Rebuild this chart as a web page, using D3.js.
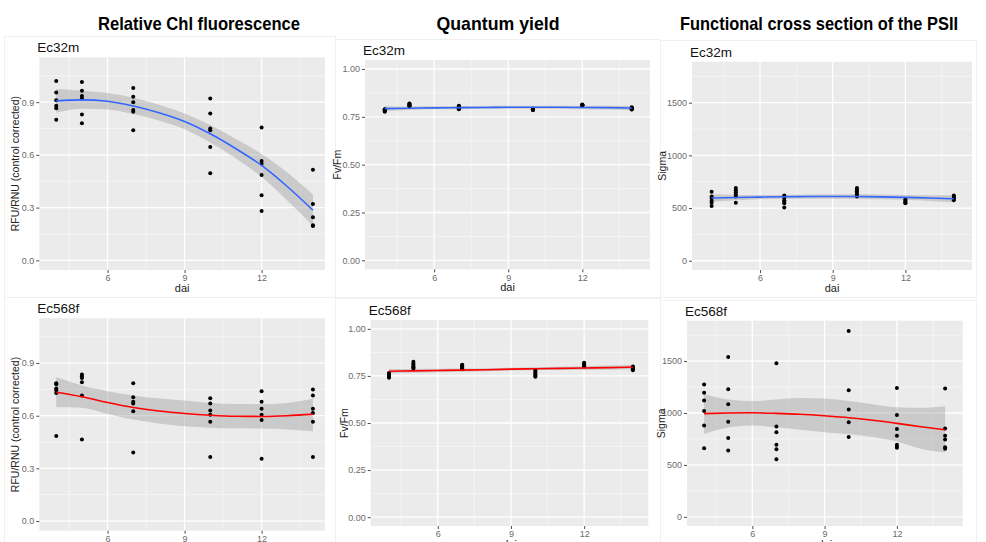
<!DOCTYPE html>
<html>
<head>
<meta charset="utf-8">
<script src="https://cdn.jsdelivr.net/npm/d3@7"></script>
<style>
  body { margin: 0; background: #fff; }
  svg { display: block; font-family: "Liberation Sans", Arial, sans-serif; }
</style>
</head>
<body>
<div id="container"></div>
<script>
// sampling days and smoothing grid
var days = [4, 5, 7, 10, 12, 14];
var fitDays = [4, 5, 6, 7, 8, 9, 10, 11, 12, 13, 14];

// Relative Chl fluorescence, Ec32m (one array per day)
var chlEc32m = [
  [1.02, 0.955, 0.91, 0.88, 0.865, 0.80],
  [1.015, 0.965, 0.935, 0.92, 0.83, 0.78],
  [0.98, 0.93, 0.90, 0.855, 0.845, 0.74],
  [0.92, 0.835, 0.75, 0.74, 0.645, 0.495],
  [0.755, 0.565, 0.55, 0.485, 0.37, 0.28],
  [0.515, 0.32, 0.245, 0.20, 0.195]
];
var chlEc32mFit = [0.907, 0.913, 0.905, 0.878, 0.84, 0.79, 0.72, 0.635, 0.54, 0.42, 0.285];
var chlEc32mHi  = [0.975, 0.965, 0.952, 0.925, 0.885, 0.835, 0.77, 0.69, 0.605, 0.50, 0.375];
var chlEc32mLo  = [0.84, 0.862, 0.858, 0.832, 0.795, 0.745, 0.67, 0.58, 0.475, 0.34, 0.195];

// Relative Chl fluorescence, Ec568f
var chlEc568f = [
  [0.785, 0.78, 0.755, 0.745, 0.73, 0.485],
  [0.835, 0.825, 0.815, 0.79, 0.715, 0.465],
  [0.785, 0.705, 0.68, 0.67, 0.625, 0.39],
  [0.70, 0.67, 0.63, 0.605, 0.565, 0.365],
  [0.74, 0.68, 0.64, 0.605, 0.575, 0.355],
  [0.75, 0.715, 0.64, 0.615, 0.565, 0.365]
];
var chlEc568fFit = [0.734, 0.708, 0.675, 0.647, 0.627, 0.613, 0.603, 0.597, 0.596, 0.60, 0.609];
var chlEc568fHi  = [0.82, 0.772, 0.74, 0.715, 0.698, 0.687, 0.673, 0.667, 0.666, 0.673, 0.696];
var chlEc568fLo  = [0.649, 0.645, 0.61, 0.578, 0.556, 0.54, 0.532, 0.528, 0.527, 0.522, 0.512];

// Quantum yield Fv/Fm
var qyEc32m = [
  [0.776, 0.78, 0.785, 0.788, 0.79, 0.782],
  [0.805, 0.81, 0.815, 0.818, 0.82, 0.808],
  [0.79, 0.795, 0.80, 0.805, 0.808, 0.792],
  [0.786, 0.79, 0.788, 0.792, 0.789, 0.785],
  [0.81, 0.812, 0.815, 0.808, 0.813, 0.811],
  [0.788, 0.792, 0.797, 0.80, 0.79, 0.795]
];
var qyEc32mFit = [0.793, 0.795, 0.797, 0.798, 0.799, 0.80, 0.80, 0.80, 0.799, 0.798, 0.796];
var qyEc32mHi  = [0.805, 0.804, 0.805, 0.806, 0.807, 0.808, 0.808, 0.808, 0.808, 0.808, 0.808];
var qyEc32mLo  = [0.781, 0.786, 0.789, 0.790, 0.791, 0.792, 0.792, 0.792, 0.790, 0.788, 0.784];

var qyEc568f = [
  [0.765, 0.76, 0.755, 0.75, 0.745, 0.74],
  [0.825, 0.815, 0.81, 0.80, 0.795, 0.79],
  [0.81, 0.805, 0.80, 0.795, 0.79, 0.785],
  [0.78, 0.77, 0.76, 0.755, 0.75, 0.745],
  [0.82, 0.815, 0.81, 0.805, 0.80],
  [0.80, 0.795, 0.79, 0.785, 0.78]
];
var qyEc568fFit = [0.775, 0.777, 0.779, 0.781, 0.783, 0.786, 0.788, 0.790, 0.792, 0.794, 0.797];
var qyEc568fHi  = [0.787, 0.787, 0.788, 0.789, 0.791, 0.793, 0.796, 0.799, 0.802, 0.805, 0.809];
var qyEc568fLo  = [0.763, 0.767, 0.770, 0.773, 0.775, 0.779, 0.780, 0.781, 0.782, 0.783, 0.785];

// Functional cross section (Sigma)
var sigmaEc32m = [
  [655, 610, 595, 570, 550, 520],
  [690, 670, 650, 630, 610, 550],
  [620, 595, 575, 560, 545, 505],
  [690, 675, 660, 645, 630, 610],
  [580, 570, 560, 550, 545],
  [620, 605, 595, 585, 575]
];
var sigmaEc32mFit = [595, 600, 604, 607, 609, 610, 609, 606, 601, 595, 588];
var sigmaEc32mHi  = [630, 625, 624, 626, 629, 631, 631, 628, 624, 622, 622];
var sigmaEc32mLo  = [560, 575, 584, 588, 589, 589, 587, 584, 578, 568, 554];

var sigmaEc568f = [
  [1275, 1195, 1120, 1020, 880, 660],
  [1540, 1230, 1085, 915, 760, 640],
  [1480, 870, 815, 695, 650, 555],
  [1790, 1220, 1035, 910, 770],
  [1240, 980, 845, 780, 695, 675, 665],
  [1235, 850, 780, 745, 670, 655]
];
var sigmaEc568fFit = [994, 1000, 1002, 997, 988, 973, 955, 930, 900, 868, 838];
var sigmaEc568fHi  = [1180, 1130, 1115, 1130, 1145, 1140, 1115, 1085, 1055, 1050, 1065];
var sigmaEc568fLo  = [800, 860, 880, 862, 838, 815, 795, 770, 725, 655, 620];

// tick labels
var xTicks = [6, 9, 12];
var xMinor = [4.5, 7.5, 10.5, 13.5];
var chlTicks = [0, 0.3, 0.6, 0.9];
var chlMinor = [0.15, 0.45, 0.75, 1.05];
var qyTicks = [0, 0.25, 0.5, 0.75, 1];
var qyMinor = [0.125, 0.375, 0.625, 0.875];
var sigmaTicks = [0, 500, 1000, 1500];
var sigmaMinor = [250, 750, 1250, 1750];

var columnTitles = ['Relative Chl fluorescence', 'Quantum yield', 'Functional cross section of the PSII'];

var width = 986, height = 542;

// layout of each sub plot (pixel rectangle of the grey panel)
var panels = [
  {name: 'Ec32m', pts: chlEc32m, fit: chlEc32mFit, hi: chlEc32mHi, lo: chlEc32mLo, col: '#3366FF',
   x0: 39.3, x1: 325, y0: 57.3, y1: 270, xd: [3.34, 14.47], yd: [-0.055, 1.155],
   yt: chlTicks, ym: chlMinor, fmt: d3.format('.1f'), ytitle: 'RFU/RNU (control corrected)', ytx: 15},
  {name: 'Ec32m', pts: qyEc32m, fit: qyEc32mFit, hi: qyEc32mHi, lo: qyEc32mLo, col: '#3366FF',
   x0: 365, x1: 650, y0: 60, y1: 269.3, xd: [3.2, 14.74], yd: [-0.047, 1.047],
   yt: qyTicks, ym: qyMinor, fmt: d3.format('.2f'), ytitle: 'Fv/Fm', ytx: 337},
  {name: 'Ec32m', pts: sigmaEc32m, fit: sigmaEc32mFit, hi: sigmaEc32mHi, lo: sigmaEc32mLo, col: '#3366FF',
   x0: 692, x1: 972, y0: 61.7, y1: 270, xd: [3.19, 14.75], yd: [-88, 1889],
   yt: sigmaTicks, ym: sigmaMinor, fmt: d3.format('d'), ytitle: 'Sigma', ytx: 662},
  {name: 'Ec568f', pts: chlEc568f, fit: chlEc568fFit, hi: chlEc568fHi, lo: chlEc568fLo, col: '#FF0000',
   x0: 39.3, x1: 325, y0: 318.3, y1: 530.7, xd: [3.34, 14.47], yd: [-0.055, 1.155],
   yt: chlTicks, ym: chlMinor, fmt: d3.format('.1f'), ytitle: 'RFU/RNU (control corrected)', ytx: 15},
  {name: 'Ec568f', pts: qyEc568f, fit: qyEc568fFit, hi: qyEc568fHi, lo: qyEc568fLo, col: '#FF0000',
   x0: 370.7, x1: 648.3, y0: 320, y1: 526, xd: [3.25, 14.63], yd: [-0.047, 1.047],
   yt: qyTicks, ym: qyMinor, fmt: d3.format('.2f'), ytitle: 'Fv/Fm', ytx: 344},
  {name: 'Ec568f', pts: sigmaEc568f, fit: sigmaEc568fFit, hi: sigmaEc568fHi, lo: sigmaEc568fLo, col: '#FF0000',
   x0: 687, x1: 962.7, y0: 320.7, y1: 526, xd: [3.29, 14.73], yd: [-88, 1889],
   yt: sigmaTicks, ym: sigmaMinor, fmt: d3.format('d'), ytitle: 'Sigma', ytx: 661}
];

// white cards behind each plot
var cards = [
  [4, 36, 331, 261], [335, 39, 325, 258], [660, 40, 316, 257],
  [4, 297, 331, 250], [335, 298, 325, 250], [660, 300, 316, 250]
];

var svg = d3.select('#container').append('svg')
  .attr('width', width).attr('height', height);

svg.append('rect').attr('width', width).attr('height', height).attr('fill', '#fff');

cards.forEach(function(c){
  svg.append('rect')
    .attr('x', c[0] + 0.5).attr('y', c[1] + 0.5)
    .attr('width', c[2]).attr('height', c[3])
    .attr('fill', '#fff').attr('stroke', '#f0f0f0');
});

// column headers
var titleX = [199, 498, 819];
var titleW = [202, 123, 278];
columnTitles.forEach(function(t, i){
  svg.append('text')
    .attr('x', titleX[i] - titleW[i] / 2).attr('y', 30)
    .attr('font-size', 19).attr('font-weight', 'bold').attr('fill', '#000')
    .attr('textLength', titleW[i]).attr('lengthAdjust', 'spacingAndGlyphs')
    .text(t);
});

panels.forEach(function(p){
  var x = d3.scaleLinear().domain(p.xd).range([p.x0, p.x1]);
  var y = d3.scaleLinear().domain(p.yd).range([p.y1, p.y0]);
  var g = svg.append('g');

  g.append('rect')
    .attr('x', p.x0).attr('y', p.y0)
    .attr('width', p.x1 - p.x0).attr('height', p.y1 - p.y0)
    .attr('fill', '#EBEBEB');

  // minor grid
  g.selectAll('.mx').data(xMinor).enter().append('line')
    .attr('x1', function(d){ return x(d); }).attr('x2', function(d){ return x(d); })
    .attr('y1', p.y0).attr('y2', p.y1)
    .attr('stroke', '#f6f6f6').attr('stroke-width', 0.8);
  g.selectAll('.my').data(p.ym).enter().append('line')
    .attr('x1', p.x0).attr('x2', p.x1)
    .attr('y1', function(d){ return y(d); }).attr('y2', function(d){ return y(d); })
    .attr('stroke', '#f6f6f6').attr('stroke-width', 0.8);
  // major grid
  g.selectAll('.gx').data(xTicks).enter().append('line')
    .attr('x1', function(d){ return x(d); }).attr('x2', function(d){ return x(d); })
    .attr('y1', p.y0).attr('y2', p.y1)
    .attr('stroke', '#fff').attr('stroke-width', 1.3);
  g.selectAll('.gy').data(p.yt).enter().append('line')
    .attr('x1', p.x0).attr('x2', p.x1)
    .attr('y1', function(d){ return y(d); }).attr('y2', function(d){ return y(d); })
    .attr('stroke', '#fff').attr('stroke-width', 1.3);

  // confidence ribbon
  var band = fitDays.map(function(d, i){ return {d: d, lo: p.lo[i], hi: p.hi[i], f: p.fit[i]}; });
  g.append('path').datum(band)
    .attr('d', d3.area().curve(d3.curveMonotoneX)
      .x(function(d){ return x(d.d); })
      .y0(function(d){ return y(d.lo); })
      .y1(function(d){ return y(d.hi); }))
    .attr('fill', '#999999').attr('fill-opacity', 0.4);

  // points
  var flat = [];
  p.pts.forEach(function(vals, i){
    vals.forEach(function(v){ flat.push({d: days[i], v: v}); });
  });
  g.selectAll('.pt').data(flat).enter().append('circle')
    .attr('cx', function(d){ return x(d.d); })
    .attr('cy', function(d){ return y(d.v); })
    .attr('r', 2).attr('fill', '#000');

  // smooth line
  g.append('path').datum(band)
    .attr('d', d3.line().curve(d3.curveMonotoneX)
      .x(function(d){ return x(d.d); })
      .y(function(d){ return y(d.f); }))
    .attr('fill', 'none').attr('stroke', p.col).attr('stroke-width', 1.6);

  // axes
  var ax = g.append('g').attr('transform', 'translate(0,' + p.y1 + ')')
    .call(d3.axisBottom(x).tickValues(xTicks).tickSize(3).tickPadding(2).tickFormat(d3.format('d')));
  var ay = g.append('g').attr('transform', 'translate(' + p.x0 + ',0)')
    .call(d3.axisLeft(y).tickValues(p.yt).tickSize(3).tickPadding(2).tickFormat(p.fmt));
  [ax, ay].forEach(function(a){
    a.select('.domain').remove();
    a.selectAll('line').attr('stroke', '#4d4d4d');
    a.selectAll('text').attr('fill', '#6b6b6b').attr('font-size', 9)
      .attr('font-family', '"Liberation Sans", Arial, sans-serif');
  });

  // facet label
  g.append('text')
    .attr('x', p.x0 - 2).attr('y', p.y0 - 5)
    .attr('font-size', 13.5).attr('fill', '#111')
    .text(p.name);

  // axis titles
  g.append('text')
    .attr('x', (p.x0 + p.x1) / 2).attr('y', p.y1 + 22)
    .attr('text-anchor', 'middle').attr('font-size', 11).attr('fill', '#222')
    .text('dai');
  var cy = (p.y0 + p.y1) / 2;
  g.append('text')
    .attr('transform', 'translate(' + p.ytx + ',' + cy + ') rotate(-90)')
    .attr('dy', '0.35em')
    .attr('text-anchor', 'middle').attr('font-size', 10.5).attr('fill', '#222')
    .text(p.ytitle);
});
</script>
</body>
</html>
